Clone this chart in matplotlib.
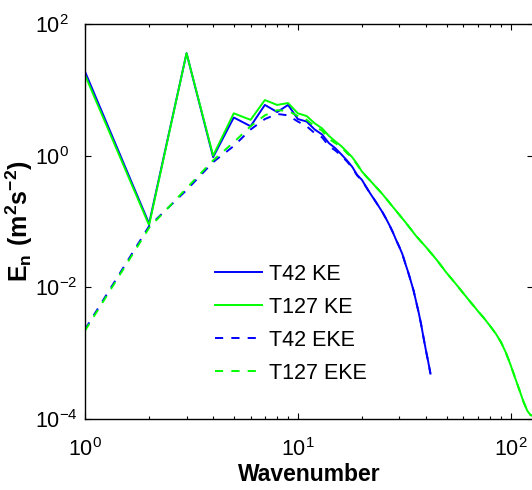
import matplotlib
matplotlib.use("Agg")
import matplotlib.pyplot as plt
from matplotlib.ticker import NullLocator, LogLocator

plt.rcParams['font.family'] = ['Liberation Sans', 'DejaVu Sans']
plt.rcParams['mathtext.fontset'] = 'custom'
plt.rcParams['mathtext.rm'] = 'Liberation Sans'
plt.rcParams['mathtext.bf'] = 'Liberation Sans:bold'
plt.rcParams['mathtext.default'] = 'regular'

# T42 spectra (wavenumbers 1..42)
n_t42 = list(range(1, 43))
ke_t42 = [18.9, 0.093, 36.0, 0.95, 3.8, 2.8, 5.9, 4.6, 5.9, 3.6,
          3.3, 2.5, 2.1, 1.55, 1.3, 1.05, 0.85, 0.68, 0.51, 0.43,
          0.33, 0.26, 0.21, 0.17, 0.138, 0.11, 0.087, 0.068, 0.052, 0.041,
          0.032, 0.023, 0.017, 0.0123, 0.0089, 0.006, 0.0041, 0.0027, 0.0017, 0.0011,
          0.00074, 0.00049]
eke_t42 = [0.0023, 0.085, 0.30, 0.80, 1.4, 2.5, 3.6, 4.3, 4.1, 3.3,
           2.8, 2.2, 1.9, 1.4, 1.2, 1.0, 0.82, 0.66, 0.50, 0.42,
           0.33, 0.26, 0.21, 0.17, 0.138, 0.11, 0.087, 0.068, 0.052, 0.041,
           0.032, 0.023, 0.017, 0.0123, 0.0089, 0.006, 0.0041, 0.0027, 0.0017, 0.0011,
           0.00074, 0.00049]

# T127 spectra (sampled wavenumbers)
n_t127 = list(range(1, 21)) + [22, 25, 28, 32, 36, 40, 45, 50, 55, 60, 65, 70,
                               75, 80, 85, 90, 95, 100, 105, 110, 115, 120, 124, 127]
ke_t127 = [16.8, 0.088, 36.0, 1.0, 4.4, 3.5, 7.0, 5.9, 6.3, 4.4,
           4.0, 3.1, 2.6, 2.0, 1.65, 1.4, 1.15, 0.95, 0.75, 0.575,
           0.41, 0.26, 0.166, 0.098, 0.060, 0.041, 0.026, 0.0166, 0.0115, 0.0081,
           0.0059, 0.0044, 0.0034, 0.0026, 0.0020, 0.00148, 0.00102, 0.00066, 0.00042, 0.000275,
           0.000182, 0.000132, 0.000115, 0.000112]
eke_t127 = [0.0022, 0.08, 0.32, 0.85, 1.6, 2.8, 4.1, 4.9, 4.8, 4.0,
            3.5, 2.8, 2.4, 1.8, 1.55, 1.35, 1.1, 0.92, 0.73, 0.565,
            0.41, 0.26, 0.166, 0.098, 0.060, 0.041, 0.026, 0.0166, 0.0115, 0.0081,
            0.0059, 0.0044, 0.0034, 0.0026, 0.0020, 0.00148, 0.00102, 0.00066, 0.00042, 0.000275,
            0.000182, 0.000132, 0.000115, 0.000112]

fig = plt.figure(figsize=(5.32, 4.9), dpi=100)
ax = fig.add_axes([0.1598, 0.1449, 0.8429, 0.8061])

lw = 1.4
ax.plot(n_t42, ke_t42, color='#0000ff', lw=lw, label='T42 KE')
ax.plot(n_t127, ke_t127, color='#00ff00', lw=lw, label='T127 KE')
ax.plot(n_t42, eke_t42, color='#0000ff', lw=lw, dashes=(4.2, 4.2), label='T42 EKE')
ax.plot(n_t127, eke_t127, color='#00ff00', lw=lw, dashes=(4.2, 4.2), label='T127 EKE')

ax.set_xscale('log')
ax.set_yscale('log')
ax.set_xlim(1, 128)
ax.set_ylim(1e-4, 1e2)
ax.set_yticks([1e-4, 1e-2, 1e0, 1e2])
ax.yaxis.set_minor_locator(NullLocator())
ax.xaxis.set_minor_locator(LogLocator(base=10, subs=range(2, 10)))

ax.tick_params(which='both', direction='in', top=True, right=True,
               labelsize=15.5, width=0.8)
ax.tick_params(which='major', length=4.5)
ax.tick_params(which='minor', length=2.5)
ax.tick_params(axis='x', pad=14)
# matlab-style: the "10" of every y label starts at the same x
ax.tick_params(axis='y', pad=36)
for lab in ax.get_yticklabels():
    lab.set_horizontalalignment('left')
for s in ax.spines.values():
    s.set_linewidth(1.0)

ax.set_xlabel('Wavenumber', fontsize=16.5, fontweight='bold')
ax.xaxis.set_label_coords(0.5, -0.112)
ax.set_ylabel(r'$E_n\ (m^2s^{-2})$', fontsize=18, fontweight='bold')
ax.yaxis.set_label_coords(-0.112, 0.5)

ax.legend(loc='upper left', bbox_to_anchor=(0.404, 0.4615), bbox_transform=fig.transFigure,
          frameon=False, fontsize=15.5, handlelength=2.2, handletextpad=0.33,
          labelspacing=0.56, borderpad=0, borderaxespad=0)

fig.savefig('out.png', dpi=100)
